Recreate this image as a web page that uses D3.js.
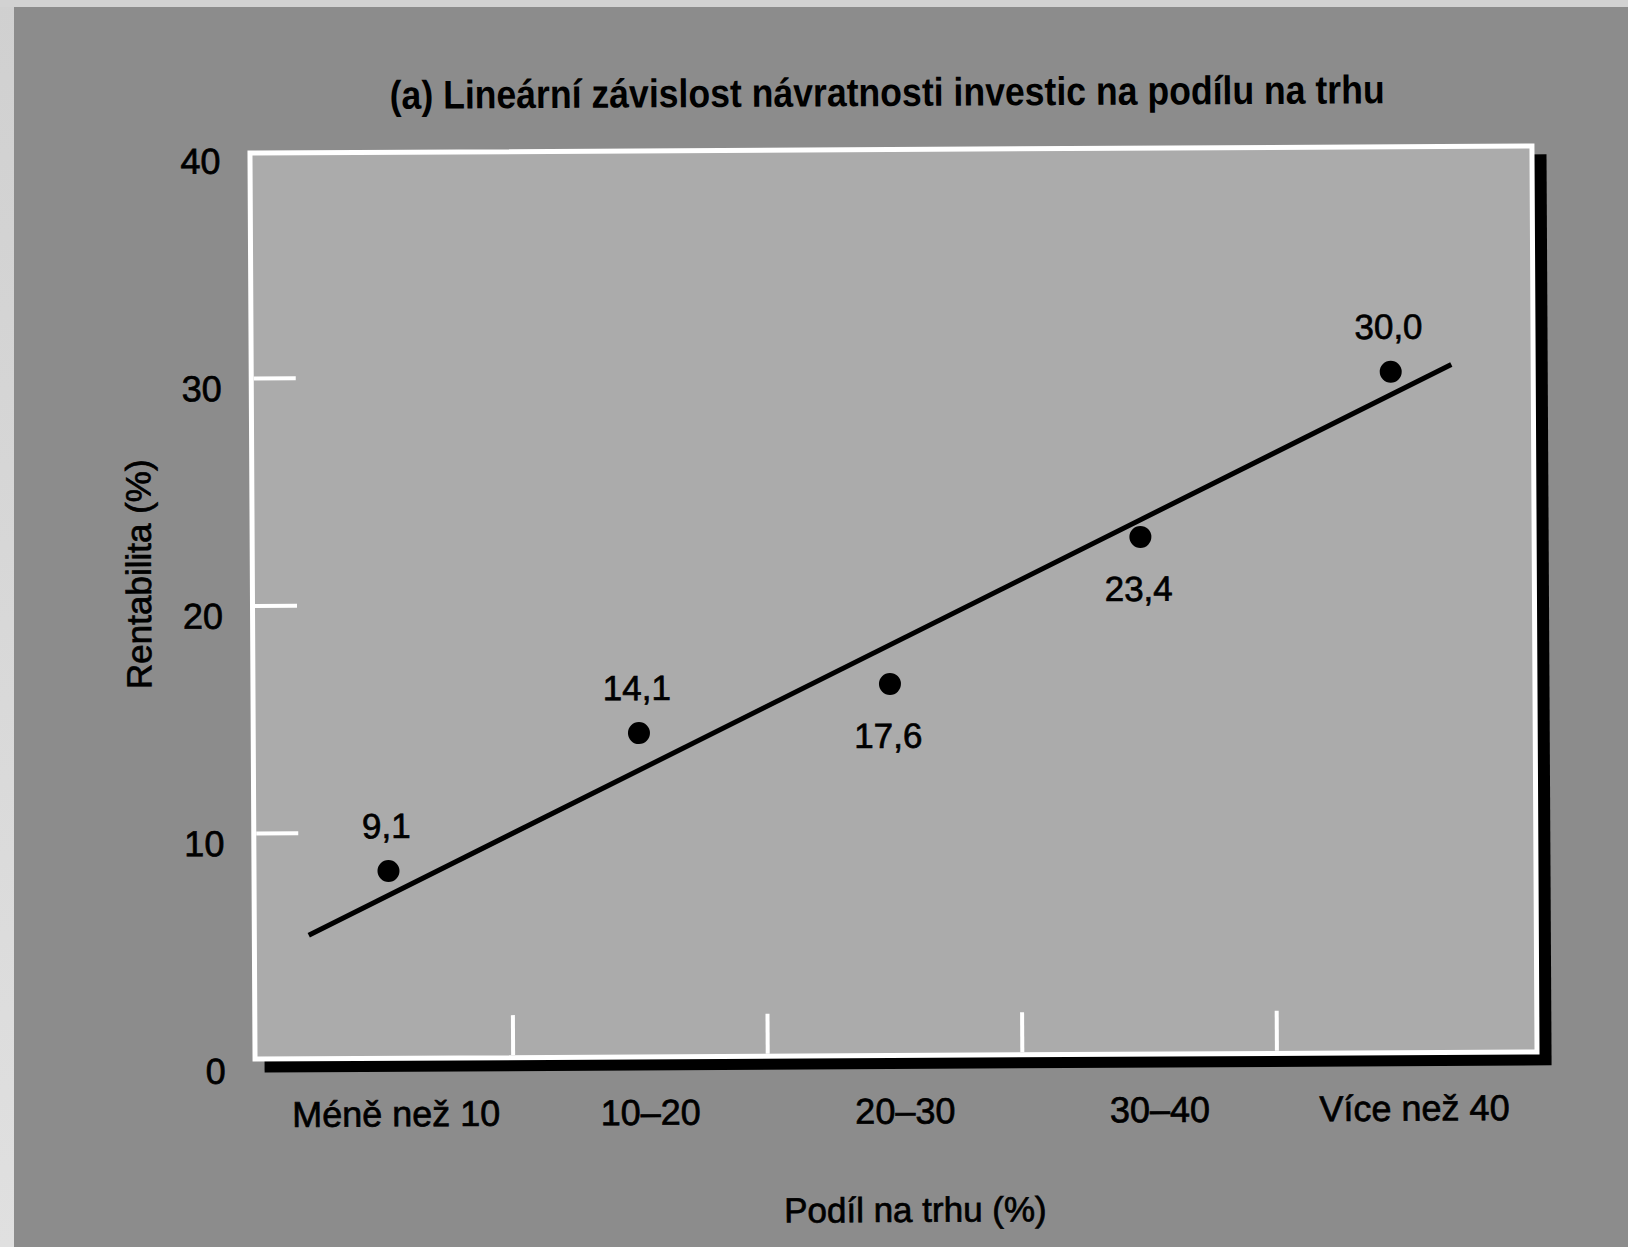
<!DOCTYPE html>
<html>
<head>
<meta charset="utf-8">
<script src="https://cdn.jsdelivr.net/npm/d3@7"></script>
<style>
html, body { margin:0; padding:0; background:#8c8c8c; }
svg { display:block; }
text { font-family:'Liberation Sans', Arial, sans-serif; fill:#000; }
</style>
</head>
<body>
<div id="plot"></div>
<script>
// values
var kategorie = ['Méně než 10', '10–20', '20–30', '30–40', 'Více než 40'];
var rentabilita = [8.3, 14.3, 16.4, 22.8, 30.0];   // where the dots sit
var popisky = ['9,1', '14,1', '17,6', '23,4', '30,0'];
var polohaPopisku = ['nad', 'nad', 'pod', 'pod', 'nad'];
var yTicks = [0, 10, 20, 30, 40];
// fitted line, x in category index
var trendX = [-0.3, 4.2];
var trendY = [5.5, 30.3];

var W = 1628, H = 1247;
var frame = {l:250, r:1537, t:147, b:1058};

var svg = d3.select('#plot')
	.append('svg')
	.attr('width', W)
	.attr('height', H);

var defs = svg.append('defs');
var grad = defs.append('linearGradient')
	.attr('id', 'strip')
	.attr('x1', 0).attr('y1', 0).attr('x2', 0).attr('y2', 1);
grad.append('stop').attr('offset', '0%').attr('stop-color', '#d0d0d0');
grad.append('stop').attr('offset', '100%').attr('stop-color', '#e0e0e0');

//scanned page background
svg.append('rect').attr('width', W).attr('height', H).attr('fill', '#8c8c8c');
svg.append('rect').attr('width', 14).attr('height', H).attr('fill', 'url(#strip)');
svg.append('rect').attr('width', W).attr('height', 7).attr('fill', '#d2d2d2');

//the scan is tilted a little
var g = svg.append('g')
	.attr('transform', 'rotate(-0.32,893,603)');

var x = d3.scaleBand().domain(kategorie).range([256, 1529]);
var cx = function(d){ return x(d) + x.bandwidth()/2; };
var xi = d3.scaleLinear().domain([0, kategorie.length-1]).range([cx(kategorie[0]), cx(kategorie[kategorie.length-1])]);
//dots are not exactly on the band centres
var xp = d3.scalePoint().domain(kategorie).range([387, 1392]);
var y = d3.scaleLinear().domain([0, 40]).range([1057, 147]);

//shadow + framed plot area
g.append('rect')
	.attr('x', frame.l+12)
	.attr('y', frame.t+11)
	.attr('width', frame.r-frame.l)
	.attr('height', frame.b-frame.t)
	.attr('fill', '#000');
g.append('rect')
	.attr('x', frame.l+2.5)
	.attr('y', frame.t+2.5)
	.attr('width', frame.r-frame.l-5)
	.attr('height', frame.b-frame.t-5)
	.attr('fill', '#ababab')
	.attr('stroke', '#fff')
	.attr('stroke-width', 5);

//y axis, ticks pointing inside
var yAxis = g.append('g')
	.attr('transform', 'translate(' + (frame.l+5) + ',0)')
	.call(d3.axisLeft(y).tickValues(yTicks).tickSizeInner(-42).tickSizeOuter(0).tickPadding(32));
yAxis.select('.domain').remove();
yAxis.selectAll('.tick line')
	.attr('stroke', '#fff')
	.attr('stroke-width', 4)
	.style('display', function(d){ return (d == 0 || d == 40) ? 'none' : null; });
yAxis.selectAll('.tick text')
	.attr('dy', '0.62em')
	.attr('class', 'lbl')
	.style('font-size', '36px')
	.attr('fill', '#000');

//x axis labels
var xAxis = g.append('g')
	.attr('transform', 'translate(0,' + frame.b + ')')
	.call(d3.axisBottom(x).tickSize(0).tickPadding(40));
xAxis.select('.domain').remove();
xAxis.selectAll('.tick text')
	.attr('dx', 10)
	.attr('class', 'lbl')
	.style('font-size', '36px')
	.attr('fill', '#000');

//white marks on the category borders
g.selectAll('.xmark')
	.data(kategorie.slice(1))
	.enter()
	.append('line')
	.attr('class', 'xmark')
	.attr('x1', function(d){ return x(d); })
	.attr('x2', function(d){ return x(d); })
	.attr('y1', frame.b-5)
	.attr('y2', frame.b-45)
	.attr('stroke', '#fff')
	.attr('stroke-width', 4);

//trend line
var line = d3.line()
	.x(function(d){ return xi(d[0]); })
	.y(function(d){ return y(d[1]); });
g.append('path')
	.datum(d3.zip(trendX, trendY))
	.attr('d', line)
	.attr('fill', 'none')
	.attr('stroke', '#000')
	.attr('stroke-width', 5);

//points
g.selectAll('.dot')
	.data(rentabilita)
	.enter()
	.append('circle')
	.attr('class', 'dot')
	.attr('cx', function(d, i){ return xp(kategorie[i]); })
	.attr('cy', function(d){ return y(d); })
	.attr('r', 11)
	.attr('fill', '#000');

g.selectAll('.popisek')
	.data(rentabilita)
	.enter()
	.append('text')
	.attr('class', 'popisek lbl')
	.attr('x', function(d, i){ return xp(kategorie[i]) - 2; })
	.attr('y', function(d, i){ return y(d) + (polohaPopisku[i] == 'nad' ? -33 : 64); })
	.attr('text-anchor', 'middle')
	.style('font-size', '35px')
	.text(function(d, i){ return popisky[i]; });

//titles
g.append('text')
	.attr('x', 890)
	.attr('y', 106)
	.attr('text-anchor', 'middle')
	.attr('textLength', 995)
	.attr('lengthAdjust', 'spacingAndGlyphs')
	.style('font-size', '40px')
	.style('font-weight', 'bold')
	.text('(a) Lineární závislost návratnosti investic na podílu na trhu');

g.append('text')
	.attr('class', 'lbl')
	.attr('transform', 'translate(151,570) rotate(-90)')
	.attr('text-anchor', 'middle')
	.style('font-size', '35px')
	.text('Rentabilita (%)');

g.append('text')
	.attr('class', 'lbl')
	.attr('x', 912)
	.attr('y', 1222)
	.attr('text-anchor', 'middle')
	.style('font-size', '35px')
	.text('Podíl na trhu (%)');

//scanned print looks a bit heavier
g.selectAll('.lbl')
	.style('font-family', "'Liberation Sans', Arial, sans-serif")
	.attr('stroke', '#000')
	.attr('stroke-width', 0.7);
</script>
</body>
</html>
